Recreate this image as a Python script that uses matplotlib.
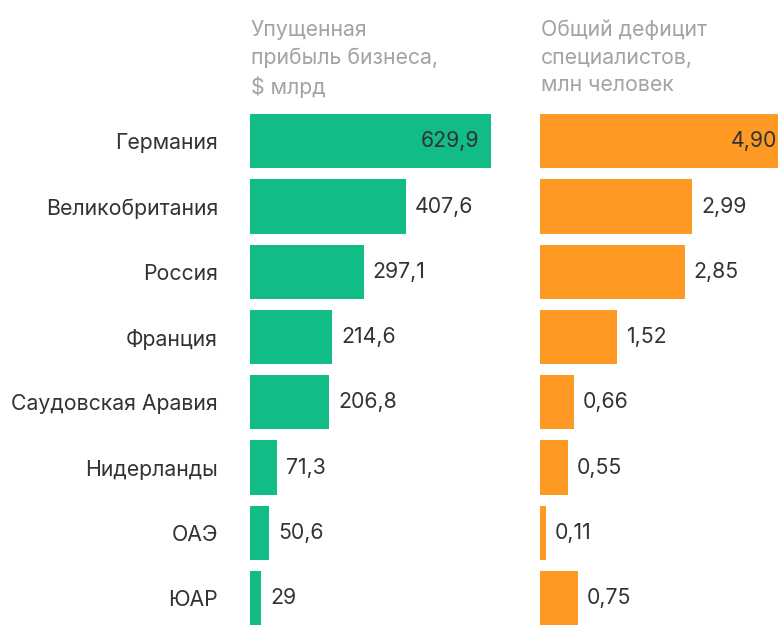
import matplotlib
matplotlib.use("Agg")
import matplotlib.pyplot as plt

plt.rcParams['font.family'] = ['Inter', 'DejaVu Sans']

countries = ["Германия", "Великобритания", "Россия", "Франция",
             "Саудовская Аравия", "Нидерланды", "ОАЭ", "ЮАР"]
lost_profit = [629.9, 407.6, 297.1, 214.6, 206.8, 71.3, 50.6, 29]
lost_profit_labels = ["629,9", "407,6", "297,1", "214,6", "206,8", "71,3", "50,6", "29"]
shortage = [4.90, 2.99, 2.85, 1.52, 0.66, 0.55, 0.11, 0.75]
shortage_labels = ["4,90", "2,99", "2,85", "1,52", "0,66", "0,55", "0,11", "0,75"]

title_left = "Упущенная\nприбыль бизнеса,\n$ млрд"
title_right = "Общий дефицит\nспециалистов,\nмлн человек"

GREEN = "#12bc86"
ORANGE = "#fe9a24"
TEXT = "#333333"
MUTED = "#a3a3a3"
FS = 15.3

W, H = 778, 637
fig = plt.figure(figsize=(W / 100, H / 100), dpi=100)

bottom = (H - 630.7) / H
height = 522 / H
ax1 = fig.add_axes([250 / W, bottom, 280 / W, height])
ax2 = fig.add_axes([540 / W, bottom, 238 / W, height])

y = list(range(len(countries)))
bar_h = 0.83

ax1.barh(y, lost_profit, height=bar_h, color=GREEN)
ax1.set_xlim(0, 280 / 0.3826)
ax2.barh(y, shortage, height=bar_h, color=ORANGE)
ax2.set_xlim(0, 238 / 50.8)

for ax in (ax1, ax2):
    ax.set_ylim(len(countries) - 0.5, -0.5)
    for s in ax.spines.values():
        s.set_visible(False)
    ax.set_xticks([])
    ax.patch.set_alpha(0)

ax1.set_yticks(y)
ax1.set_yticklabels(countries, fontsize=FS, color=TEXT)
ax1.tick_params(axis='y', length=0, pad=23)
ax2.set_yticks([])


def label_bars(ax, values, labels, vmax):
    for i, (v, t) in enumerate(zip(values, labels)):
        if v == vmax:
            ax.annotate(t, xy=(v, i), xytext=(-12, 0), textcoords='offset pixels',
                        ha='right', va='center', fontsize=FS, color=TEXT,
                        annotation_clip=False)
        else:
            ax.annotate(t, xy=(v, i), xytext=(9, 0), textcoords='offset pixels',
                        ha='left', va='center', fontsize=FS, color=TEXT,
                        annotation_clip=False)


label_bars(ax1, lost_profit, lost_profit_labels, max(lost_profit))
label_bars(ax2, shortage, shortage_labels, max(shortage))

fig.text(251 / W, 1 - 20 / H, title_left, ha='left', va='top', fontsize=FS,
         color=MUTED, linespacing=1.44)
fig.text(541 / W, 1 - 20 / H, title_right, ha='left', va='top', fontsize=FS,
         color=MUTED, linespacing=1.44)

fig.savefig("out.png", dpi=100, facecolor="white")
